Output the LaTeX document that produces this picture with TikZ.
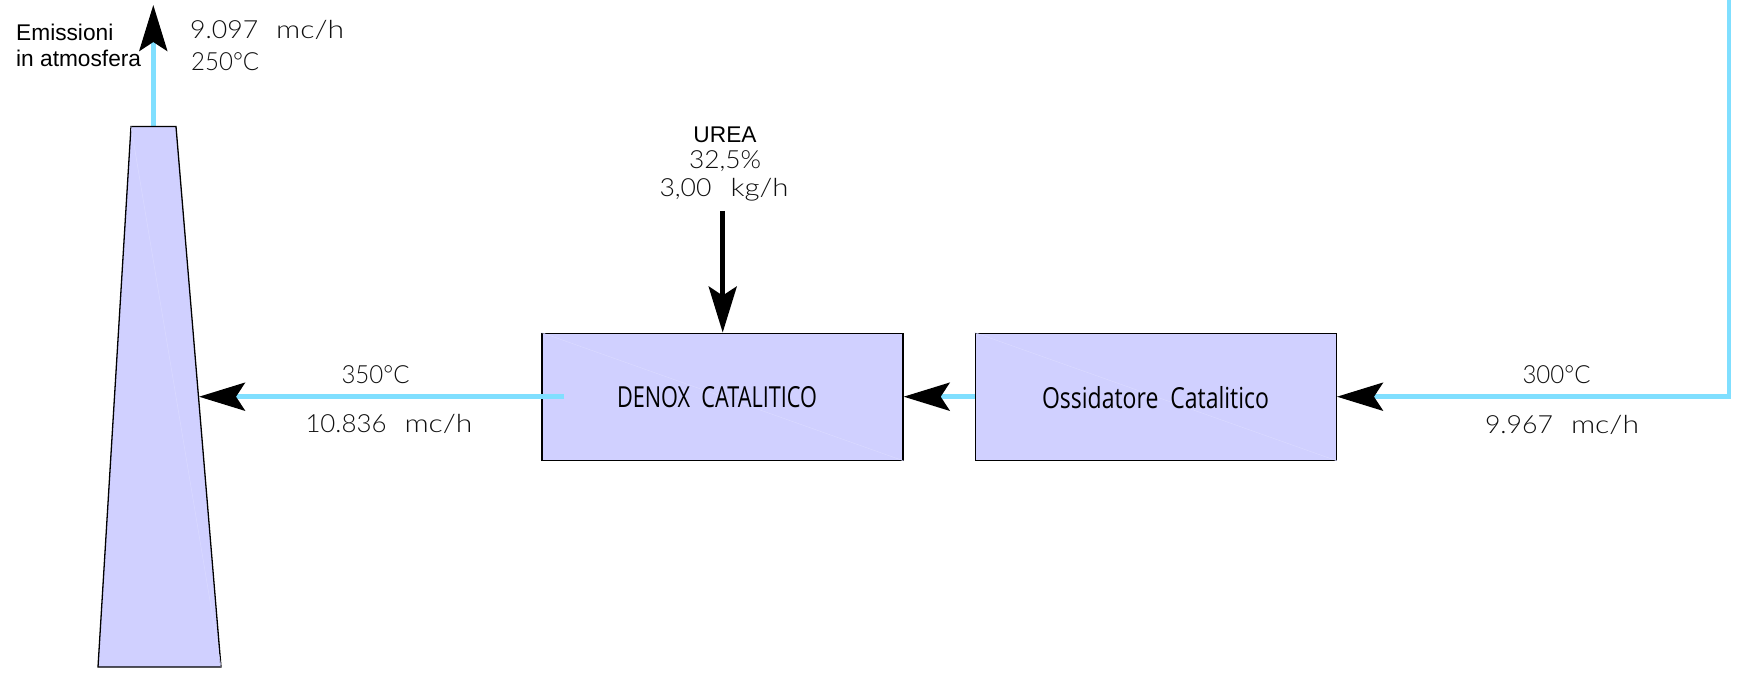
\documentclass[tikz,border=0pt]{standalone}
\usepackage{fontspec}
\usetikzlibrary{arrows.meta}
\setmainfont{Liberation Sans}
\newfontfamily\cadfont[UprightFont=* Light]{Lato}
\newfontfamily\boxfont{Open Sans}
\definecolor{fillblue}{HTML}{D0D0FF}
\definecolor{faint}{HTML}{DADAFF}
\definecolor{flowblue}{HTML}{80DFFF}
\definecolor{cadgray}{HTML}{101010}
\newcommand{\fitw}[2]{\resizebox{#1pt}{\height}{#2}}
\tikzset{
  x=1pt,y=-1pt,
  vessel/.style={draw=black,line width=1.3pt,fill=fillblue,inner sep=0pt,minimum width=361pt,minimum height=127pt},
  faintline/.style={draw=faint,line width=0.5pt},
  flow/.style={draw=flowblue,line width=4.5pt,-{Stealth[black,length=46pt,width=28pt,inset=9pt]}},
  feed/.style={draw=black,line width=4.5pt,-{Stealth[black,length=46pt,width=28pt,inset=9pt]}},
  cad/.style={anchor=base west,inner sep=0pt,text=cadgray,font=\cadfont\fontsize{25}{25}\selectfont},
  cadc/.style={anchor=base,inner sep=0pt,text=cadgray,font=\cadfont\fontsize{25}{25}\selectfont},
  arial/.style={anchor=base west,inner sep=0pt,text=black,font=\fontsize{22.7}{22.7}\selectfont},
  boxlabel/.style={anchor=base,inner sep=0pt,text=black,font=\boxfont\fontsize{29}{29}\selectfont}
}
\begin{document}
\begin{tikzpicture}
\useasboundingbox (0,0) rectangle (1741,676);
\fill[white] (0,0) rectangle (1741,676);
% chimney
\coordinate (ctl) at (131,126.5);
\coordinate (ctr) at (176,126.5);
\coordinate (cbr) at (221,667);
\coordinate (cbl) at (98,667);
\coordinate (ctop) at (153.3,126.5);
\coordinate (cin) at (199,397);
\coordinate (atm) at (153.3,5);
\draw[flow] (ctop) -- (atm);
\draw[black,line width=1.3pt,fill=fillblue,line join=miter] (ctl) -- (ctr) -- (cbr) -- (cbl) -- cycle;
\draw[faintline] (ctl) -- (cbr);
% boxes
\node[vessel] (denox) at (722.5,396.7) {};
\node[vessel] (oxi) at (1155.8,396.7) {};
\draw[faintline] (denox.north west) -- (denox.south east);
\draw[faintline] (oxi.north west) -- (oxi.south east);
% connectors
\coordinate (dstart) at (564,396.7);
\coordinate (netin) at (1729,0);
\coordinate (corner) at (1729,396.7);
\coordinate (ureastart) at (722.7,211);
\draw[flow] (dstart) -- (cin |- dstart);
\draw[flow] (oxi.west) -- (denox.east);
\draw[flow] (netin) -- (corner) -- (oxi.east);
\draw[feed] (ureastart) -- (denox.north -| ureastart);
% labels
\node[arial] (em1) at (16,41) {Emissioni};
\node[arial] (em2) at (16,67) {in atmosfera};
\node[cad] (q1) at (190,39) {\fitw{68}{9.097}\hspace{18pt}\fitw{68}{mc/h}};
\node[cad] (t1) at (191,71) {\fitw{68}{250°C}};
\node[anchor=base,inner sep=0pt,font=\fontsize{22.7}{22.7}\selectfont] (urea) at (725,143) {UREA};
\node[cadc] (conc) at (725,169) {\fitw{72}{32,5\%}};
\node[cadc] (rate) at (724,197) {\fitw{52}{3,00}\hspace{19pt}\fitw{58}{kg/h}};
\node[boxlabel] (dl) at (717,407) {\fitw{200}{DENOX~~CATALITICO}};
\node[boxlabel] (ol) at (1155.5,408) {\fitw{227}{Ossidatore~~Catalitico}};
\node[cadc] (t2) at (375.5,383) {\fitw{68}{350°C}};
\node[cadc] (q2) at (389,432) {\fitw{81}{10.836}\hspace{18pt}\fitw{68}{mc/h}};
\node[cadc] (t3) at (1556.5,383) {\fitw{68}{300°C}};
\node[cadc] (q3) at (1562,433) {\fitw{68}{9.967}\hspace{18pt}\fitw{68}{mc/h}};
\end{tikzpicture}
\end{document}
